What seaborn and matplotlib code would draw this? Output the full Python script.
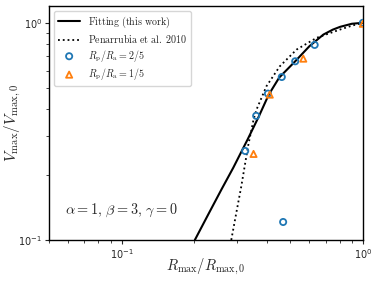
import numpy as np
import pandas as pd
import matplotlib
matplotlib.use("Agg")
import matplotlib.pyplot as plt
import matplotlib.ticker as mticker
import seaborn as sns

# curves
fit_r = [0.201, 0.23, 0.26, 0.29, 0.333, 0.37, 0.407, 0.45, 0.524, 0.6, 0.686, 0.75, 0.804, 0.9, 1.0]
fit_v = [0.100, 0.133, 0.172, 0.215, 0.291, 0.37, 0.467, 0.56, 0.665, 0.78, 0.883, 0.93, 0.958, 0.99, 1.0]

pen_r = [0.2846, 0.2985, 0.313, 0.334, 0.352, 0.362, 0.398, 0.452, 0.531, 0.643, 0.804, 0.9, 1.0]
pen_v = [0.100, 0.133, 0.176, 0.270, 0.358, 0.398, 0.510, 0.630, 0.753, 0.853, 0.931, 0.97, 1.0]

# simulation points
r25 = [0.325, 0.361, 0.404, 0.461, 0.467, 0.524, 0.631, 1.0]
v25 = [0.257, 0.373, 0.472, 0.563, 0.121, 0.665, 0.791, 1.0]

r15 = [0.352, 0.411, 0.566, 1.0]
v15 = [0.249, 0.467, 0.684, 0.99]

sns.set_style("ticks")
plt.rcParams["font.family"] = ["DejaVu Sans"]

fig = plt.figure(figsize=(3.78, 2.81), dpi=100)
ax = fig.add_axes([0.13, 0.146, 0.83, 0.834])

df_fit = pd.DataFrame({"r": fit_r, "v": fit_v})
df_pen = pd.DataFrame({"r": pen_r, "v": pen_v})
df25 = pd.DataFrame({"r": r25, "v": v25})
df15 = pd.DataFrame({"r": r15, "v": v15})

sns.lineplot(data=df_fit, x="r", y="v", ax=ax, color="black", lw=1.5, sort=False,
             label=r"$\mathrm{Fitting\ (this\ work)}$")
sns.lineplot(data=df_pen, x="r", y="v", ax=ax, color="black", lw=1.3, ls=":", sort=False,
             label=r"$\mathrm{Penarrubia\ et\ al.\ 2010}$")
sns.scatterplot(data=df25, x="r", y="v", ax=ax, marker="o", s=20, facecolors="none",
                edgecolor="#1f77b4", linewidth=1.3, label=r"$R_{\rm p}/R_{\rm a}=2/5$", zorder=3)
sns.scatterplot(data=df15, x="r", y="v", ax=ax, marker="^", s=20, facecolors="none",
                edgecolor="#ff7f0e", linewidth=1.3, label=r"$R_{\rm p}/R_{\rm a}=1/5$", zorder=3)

ax.set_xscale("log")
ax.set_yscale("log")
ax.set_xlim(0.05, 1.0)
ax.set_ylim(0.1, 1.2)
ax.xaxis.set_minor_formatter(mticker.NullFormatter())
ax.yaxis.set_minor_formatter(mticker.NullFormatter())
ax.tick_params(labelsize=7, pad=2)
ax.tick_params(which="major", length=3)
ax.tick_params(which="minor", length=2)

xl = ax.set_xlabel(r"$R_{\rm max}/R_{\rm max,0}$", fontsize=10.5, va="center")
yl = ax.set_ylabel(r"$V_{\rm max}/V_{\rm max,0}$", fontsize=11, va="center")
ax.xaxis.set_label_coords(0.5, -0.115)
ax.yaxis.set_label_coords(-0.115, 0.5)
xl.set_math_fontfamily("cm")
yl.set_math_fontfamily("cm")

t = ax.text(0.05, 0.125, r"$\alpha=1,\,\beta=3,\,\gamma=0$", transform=ax.transAxes,
            fontsize=10.3, va="center", ha="left")
t.set_math_fontfamily("cm")

leg = ax.legend(loc="upper left", fontsize=7.2, frameon=True, handlelength=2.2,
                labelspacing=0.25, borderaxespad=0.5)
for txt in leg.get_texts():
    txt.set_math_fontfamily("cm")
for sp in ax.spines.values():
    sp.set_color("black")
    sp.set_linewidth(1.0)

fig.savefig("out.png", dpi=100)
